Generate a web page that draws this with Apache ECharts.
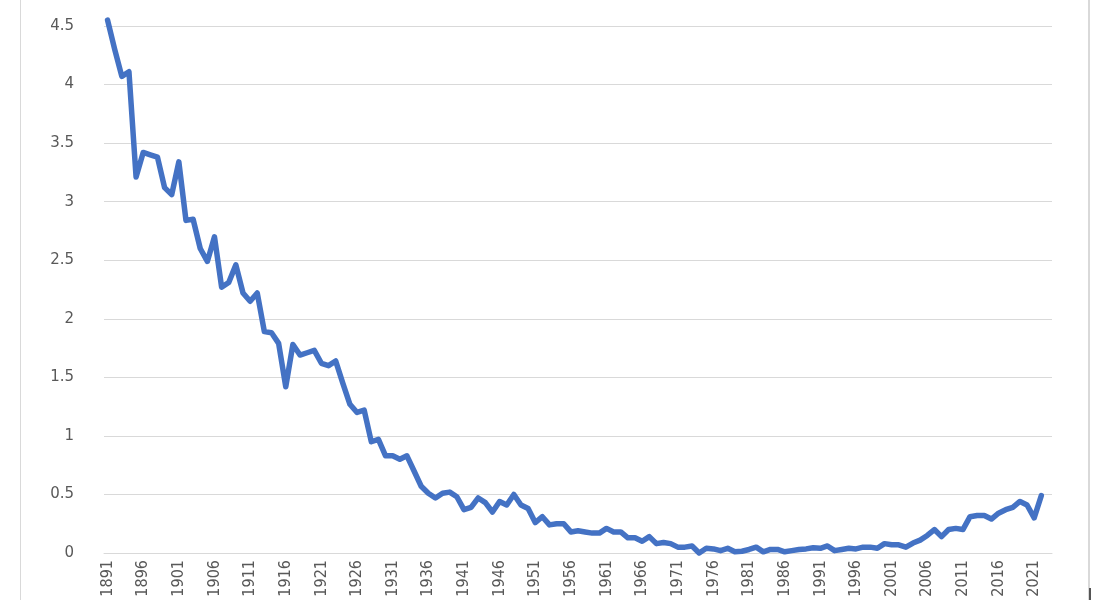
<!DOCTYPE html>
<html>
<head>
<meta charset="utf-8">
<script src="https://cdn.jsdelivr.net/npm/echarts@6/dist/echarts.min.js"></script>
<style>
html,body{margin:0;padding:0;background:#fff;}
#chart{width:1110px;height:600px;}
</style>
</head>
<body>
<div id="chart"></div>
<script>
// Categories: years 1891..2023 (2023 has no value)
const startYear = 1891;
const endYear = 2023;
const years = [];
for (let y = startYear; y <= endYear; y++) years.push(String(y));

// Series values 1891..2022
const values = [
  4.55, 4.30, 4.07, 4.11, 3.21, 3.42, 3.40, 3.38, 3.12, 3.06,   // 1891-1900
  3.34, 2.84, 2.85, 2.60, 2.49, 2.70, 2.27, 2.31, 2.46, 2.22,   // 1901-1910
  2.15, 2.22, 1.89, 1.88, 1.79, 1.42, 1.78, 1.69, 1.71, 1.73,   // 1911-1920
  1.62, 1.60, 1.64, 1.45, 1.27, 1.20, 1.22, 0.95, 0.97, 0.83,   // 1921-1930
  0.83, 0.80, 0.83, 0.70, 0.57, 0.51, 0.47, 0.51, 0.52, 0.48,   // 1931-1940
  0.37, 0.39, 0.47, 0.43, 0.35, 0.44, 0.41, 0.50, 0.41, 0.38,   // 1941-1950
  0.26, 0.31, 0.24, 0.25, 0.25, 0.18, 0.19, 0.18, 0.17, 0.17,   // 1951-1960
  0.21, 0.18, 0.18, 0.13, 0.13, 0.10, 0.14, 0.08, 0.09, 0.08,   // 1961-1970
  0.05, 0.05, 0.06, 0.00, 0.04, 0.035, 0.02, 0.04, 0.01, 0.015, // 1971-1980
  0.03, 0.05, 0.01, 0.03, 0.03, 0.01, 0.02, 0.03, 0.035, 0.045, // 1981-1990
  0.04, 0.06, 0.02, 0.03, 0.04, 0.035, 0.05, 0.05, 0.04, 0.08,  // 1991-2000
  0.07, 0.07, 0.05, 0.085, 0.11, 0.15, 0.20, 0.14, 0.20, 0.21,  // 2001-2010
  0.20, 0.31, 0.32, 0.32, 0.29, 0.34, 0.37, 0.39, 0.44, 0.41,   // 2011-2020
  0.30, 0.49                                                    // 2021-2022
];

// Y-axis ticks
const yMin = 0, yMax = 4.5, yStep = 0.5;

const chart = echarts.init(document.getElementById('chart'), null, {renderer: 'canvas'});
chart.setOption({
  animation: false,
  backgroundColor: '#ffffff',
  grid: {left: 104, right: 58, top: 26, bottom: 47, containLabel: false},
  xAxis: {
    type: 'category',
    data: years,
    boundaryGap: true,
    axisLine: {show: true, lineStyle: {color: '#d9d9d9', width: 1}},
    axisTick: {show: false},
    axisLabel: {
      interval: 4,
      rotate: 90,
      margin: 7,
      color: '#595959',
      fontSize: 16,
      fontFamily: '"Liberation Sans Narrow", "DejaVu Sans Condensed", sans-serif'
    },
    splitLine: {show: false}
  },
  yAxis: {
    type: 'value',
    min: yMin, max: yMax, interval: yStep,
    axisLine: {show: false},
    axisTick: {show: false},
    axisLabel: {
      color: '#595959',
      fontSize: 15,
      margin: 30,
      fontFamily: '"DejaVu Sans", sans-serif',
      formatter: v => String(v)
    },
    splitLine: {show: true, lineStyle: {color: '#d9d9d9', width: 1}}
  },
  series: [{
    type: 'line',
    data: values,
    showSymbol: false,
    symbol: 'none',
    clip: false,
    lineStyle: {color: '#4472C4', width: 5.5, join: 'round', cap: 'round'},
    itemStyle: {color: '#4472C4'}
  }],
  graphic: [
    {type: 'rect', left: 20, top: 0, shape: {width: 1, height: 600}, style: {fill: '#d9d9d9'}, silent: true},
    {type: 'rect', left: 1088, top: 0, shape: {width: 2, height: 600}, style: {fill: '#d9d9d9'}, silent: true},
    {type: 'rect', left: 1089, top: 588, shape: {width: 2, height: 12}, style: {fill: '#555555'}, silent: true}
  ]
});
</script>
</body>
</html>
